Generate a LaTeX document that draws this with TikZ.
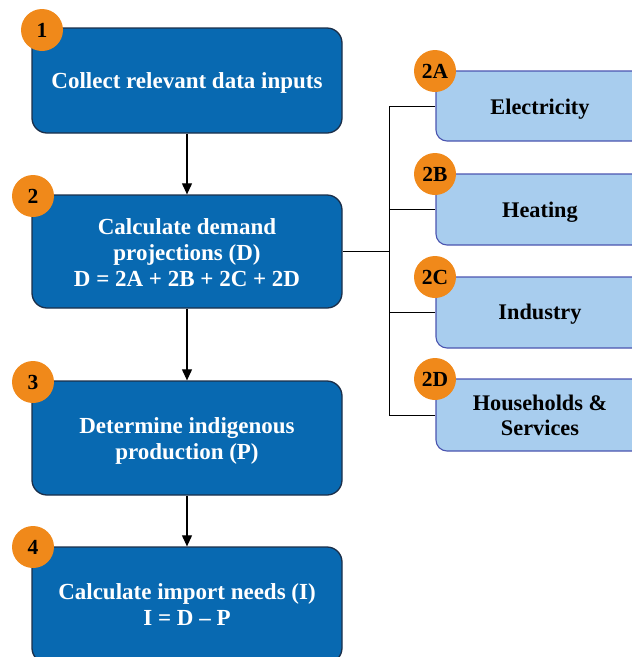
\documentclass[tikz,border=0pt]{standalone}
\usepackage{fontspec}
\setmainfont{Liberation Serif}
\usetikzlibrary{arrows.meta}
\definecolor{stepblue}{HTML}{0869B1}
\definecolor{stepedge}{HTML}{1B2F4A}
\definecolor{subblue}{HTML}{A8CDEE}
\definecolor{subedge}{HTML}{4B55B0}
\definecolor{badgeorange}{HTML}{F0891A}
\begin{document}
\begin{tikzpicture}[x=1pt,y=-1pt,
  stepbox/.style={draw=stepedge, line width=1.3pt, fill=stepblue, rounded corners=15pt,
    minimum width=310pt, inner sep=0pt},
  steptext/.style={text=white, font=\bfseries\fontsize{23}{26}\selectfont, align=center, inner sep=0pt},
  subbox/.style={draw=subedge, line width=1.1pt, fill=subblue, rounded corners=11pt,
    minimum width=208pt, inner sep=0pt},
  subtext/.style={text=black, font=\bfseries\fontsize{22.3}{25}\selectfont, align=center, inner sep=0pt},
  badge/.style={circle, fill=badgeorange, minimum size=42pt, inner sep=0pt,
    text=black, font=\bfseries\fontsize{21.5}{21.5}\selectfont},
  flow/.style={line width=1.1pt, -{Triangle[length=11pt,width=10pt]}},
  link/.style={line width=1pt, black}
]
\useasboundingbox (0,0) rectangle (632,657);
\clip (0,0) rectangle (632,657);

% main steps
\node[stepbox, minimum height=105pt] (s1) at (187,80.5) {};
\node[stepbox, minimum height=113pt] (s2) at (187,251.5) {};
\node[stepbox, minimum height=114pt] (s3) at (187,438) {};
\node[stepbox, minimum height=116pt] (s4) at (187,605) {};
\node[steptext] (t1) at ([yshift=-2pt]s1.center) {Collect relevant data inputs};
\node[steptext] (t2) at ([yshift=-1.5pt]s2.center) {Calculate demand\\projections (D)\\D = 2A + 2B + 2C + 2D};
\node[steptext] (t3) at ([yshift=-3pt]s3.center) {Determine indigenous\\production (P)};
\node[steptext] (t4) at (s4.center) {Calculate import needs (I)\\I = D -- P};

% demand components
\node[subbox, minimum height=70pt] (sa) at (540,106) {};
\node[subbox, minimum height=71pt] (sb) at (540,209.5) {};
\node[subbox, minimum height=71pt] (sc) at (540,312.5) {};
\node[subbox, minimum height=72pt] (sd) at (540,415) {};
\node[subtext] (ta) at ([yshift=-3pt]sa.center) {Electricity};
\node[subtext] (tb) at ([yshift=-2.5pt]sb.center) {Heating};
\node[subtext] (tc) at ([yshift=-2pt]sc.center) {Industry};
\node[subtext] (td) at ([yshift=-0.5pt]sd.center) {Households \&\\Services};

% arrows between steps
\draw[flow] (s1) -- (s2);
\draw[flow] (s2) -- (s3);
\draw[flow] (s3) -- (s4);

% bracket joining step 2 to its components
\coordinate (bus) at (389,0);
\draw[link] (sa.west) -- (sa.west -| bus) -- (sd.west -| bus) -- (sd.west);
\draw[link] (sb.west) -- (sb.west -| bus);
\draw[link] (sc.west) -- (sc.west -| bus);
\draw[link] (s2.east) -- (s2.east -| bus);

% numbered badges
\node[badge] (b1) at (42,30) {1};
\node[badge] (b2) at (33,196) {2};
\node[badge] (b3) at (33,382) {3};
\node[badge] (b4) at (33,547) {4};
\node[badge] (ba) at (435,71) {2A};
\node[badge] (bb) at (435,174) {2B};
\node[badge] (bc) at (435,277) {2C};
\node[badge] (bd) at (435,379) {2D};
\end{tikzpicture}
\end{document}
